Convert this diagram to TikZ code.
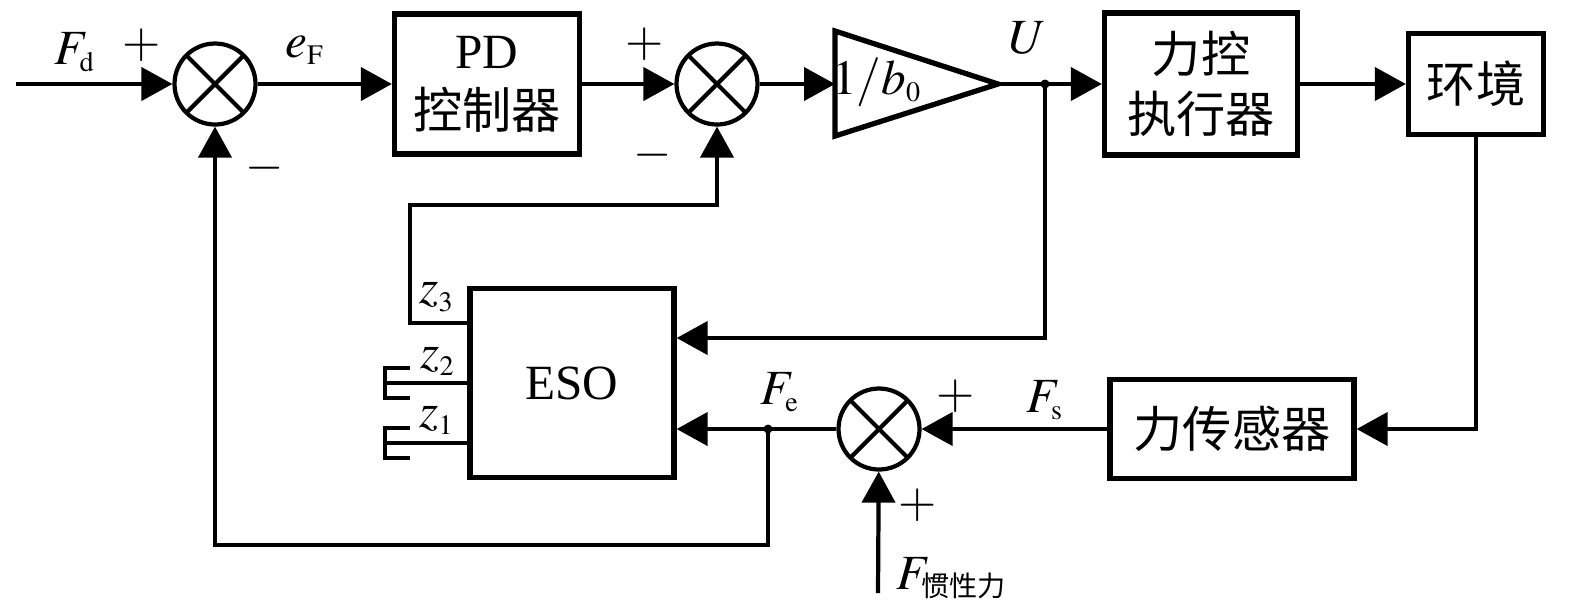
\documentclass[tikz,border=0pt]{standalone}
\usepackage{amsmath}
\usepackage{mathptmx}
\usepackage{fontspec}
\setmainfont{Liberation Serif}
\newfontfamily\cjk{Noto Sans CJK SC}
\DeclareMathSizes{14}{14}{8}{6}
\usetikzlibrary{positioning,calc,arrows.meta}

\tikzset{
    block/.style={rectangle, draw, line width=1.5pt, align=center, inner sep=0pt},
    sumnode/.style={circle, draw, line width=1.2pt, minimum size=8.1mm, inner sep=0pt,
        path picture={\draw[line width=1.2pt] (path picture bounding box.north west) -- (path picture bounding box.south east)
            (path picture bounding box.north east) -- (path picture bounding box.south west);}},
    wire/.style={line width=1.2pt},
    arr/.style={wire, -{Triangle[length=3.1mm, width=3.3mm]}}
}

\begin{document}
\begin{tikzpicture}[x=0.1mm, y=-0.1mm, font=\fontsize{14}{17}\selectfont]
    \useasboundingbox (0,0) rectangle (1575,613);

    \node[sumnode] (sumF) at (215,84) {};
    \node[block, minimum width=18.5mm, minimum height=14mm] (pd) at (487,84) {PD\\{\cjk 控制器}};
    \node[sumnode] (sumU) at (717,84) {};
    \coordinate (gin) at (835,84);
    \coordinate (gout) at (998,84);
    \draw[line width=1.5pt] (835,31) -- (gout) -- (835,136) -- cycle;
    \node (gain) at (877,82) {$1/b_0$};
    \node[block, minimum width=19.3mm, minimum height=14.2mm] (act) at (1201,84) {{\cjk 力控}\\{\cjk 执行器}};
    \node[block, minimum width=13.5mm, minimum height=10.1mm] (env) at (1476,84) {\cjk 环境};
    \node[block, minimum width=24.4mm, minimum height=9.9mm] (sensor) at (1232,429) {\cjk 力传感器};
    \node[sumnode] (sumE) at (879,429) {};
    \node[block, minimum width=20.4mm, minimum height=18.9mm] (eso) at (572,383) {ESO};

    \coordinate (in) at (16,84);
    \coordinate (uSplit) at (1045,84);
    \coordinate (eSplit) at (768,429);
    \coordinate (inert) at (878,593);
    \coordinate (zBend) at (410,205);

    \draw[arr] (in) -- (sumF);
    \draw[arr] (sumF) -- (pd);
    \draw[arr] (pd) -- (sumU);
    \draw[arr] (sumU) -- (gin);
    \draw[arr] (gout) -- (act);
    \draw[arr] (act) -- (env);
    \draw[arr] (env) |- (sensor);
    \draw[arr] (sensor) -- (sumE);
    \draw[arr] (inert) -- (sumE);
    \draw[arr] (sumE) -- (sumE -| eso.east);
    \draw[arr] (uSplit) |- ([yshift=4.5mm]eso.east);
    \draw[arr] (eSplit) -- ++(0,116) -| (sumF);
    \draw[arr] ([yshift=6mm]eso.west) -| (zBend) -| (sumU);
    \foreach \dy in {0,-6}
        \draw[wire] ([yshift=\dy mm]eso.west) -- ++(-82,0) ++(25,-15) -- ++(-25,0) -- ++(0,30) -- ++(25,0);
    \fill (uSplit) circle[radius=0.45mm];
    \fill (eSplit) circle[radius=0.45mm];

    \node (lFd) at (75,52) {$F_\mathrm{d}$};
    \node (pFd) at (142,45) {$+$};
    \node (leF) at (305,50) {$e_\mathrm{F}$};
    \node (mFb) at (265,168) {$-$};
    \node (pPd) at (645,44) {$+$};
    \node (mZ) at (653,155) {$-$};
    \node (lU) at (1028,38) {$U$};
    \node (lz3) at (437,297) {$z_3$};
    \node (lz2) at (438,361) {$z_2$};
    \node (lz1) at (437,420) {$z_1$};
    \node (lFe) at (780,392) {$F_\mathrm{e}$};
    \node (pFs) at (956,396) {$+$};
    \node (lFs) at (1045,400) {$F_\mathrm{s}$};
    \node (pIn) at (918,505) {$+$};
    \node (lIn) at (952,578) {$F_{\text{\cjk 惯性力}}$};
\end{tikzpicture}
\end{document}
